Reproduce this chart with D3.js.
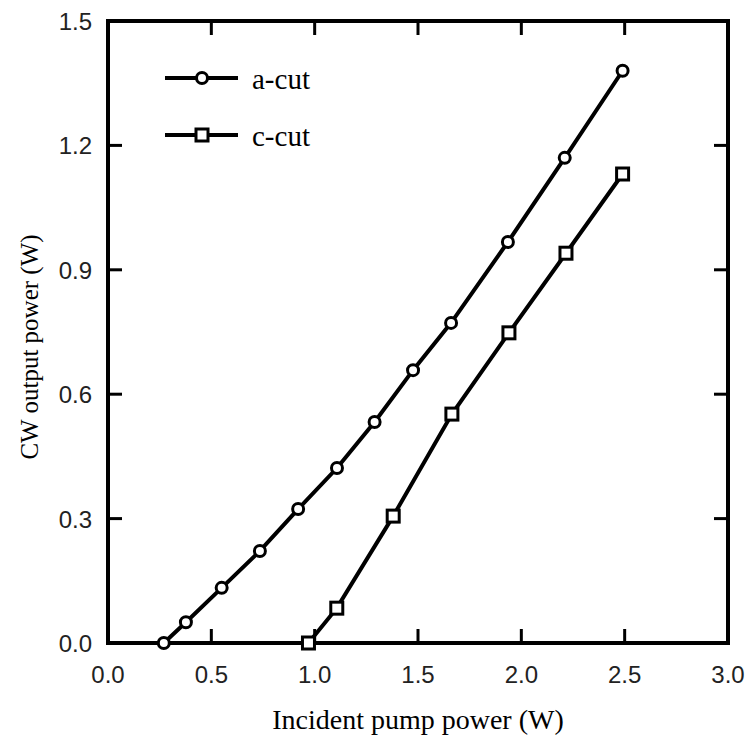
<!DOCTYPE html>
<html><head><meta charset="utf-8">
<script src="https://cdn.jsdelivr.net/npm/d3@7"></script>
<style>body{margin:0;background:#fff}</style>
</head><body>
<svg id="c" width="749" height="738"></svg>
<script>
const aCutX = [0.27, 0.377, 0.55, 0.735, 0.92, 1.108, 1.29, 1.476, 1.66, 1.935, 2.21, 2.49];
const aCutY = [0.0, 0.05, 0.133, 0.222, 0.323, 0.422, 0.533, 0.658, 0.772, 0.967, 1.17, 1.38];
const cCutX = [0.97, 1.107, 1.38, 1.664, 1.94, 2.216, 2.49];
const cCutY = [0.0, 0.084, 0.306, 0.552, 0.748, 0.94, 1.131];
const xTicks = [0.0, 0.5, 1.0, 1.5, 2.0, 2.5, 3.0];
const yTicks = [0.0, 0.3, 0.6, 0.9, 1.2, 1.5];
const seriesNames = ["a-cut", "c-cut"];

const svg = d3.select("#c");
const L = 108, R = 728, T = 21, B = 643;
const x = d3.scaleLinear().domain([0, 3]).range([L, R]);
const y = d3.scaleLinear().domain([0, 1.5]).range([B, T]);
const sans = "Liberation Sans, Arial, sans-serif";
const serif = "Liberation Serif, Times New Roman, serif";

// ticks (inside)
const tl = 14;
const g = svg.append("g").attr("stroke", "#000").attr("stroke-width", 3);
xTicks.slice(1, -1).forEach(v => {
  g.append("line").attr("x1", x(v)).attr("x2", x(v)).attr("y1", B).attr("y2", B - tl);
  g.append("line").attr("x1", x(v)).attr("x2", x(v)).attr("y1", T).attr("y2", T + tl);
});
yTicks.slice(1, -1).forEach(v => {
  g.append("line").attr("y1", y(v)).attr("y2", y(v)).attr("x1", L).attr("x2", L + tl);
  g.append("line").attr("y1", y(v)).attr("y2", y(v)).attr("x1", R).attr("x2", R - tl);
});
svg.append("rect").attr("x", L).attr("y", T).attr("width", R - L).attr("height", B - T)
  .attr("fill", "none").attr("stroke", "#000").attr("stroke-width", 4);

// tick labels
svg.append("g").selectAll("text").data(xTicks).join("text")
  .attr("x", d => x(d)).attr("y", 683).attr("text-anchor", "middle")
  .attr("font-family", sans).attr("font-size", 24).attr("fill", "#222")
  .text(d => d.toFixed(1));
svg.append("g").selectAll("text").data(yTicks).join("text")
  .attr("x", 92).attr("y", d => y(d) + 9).attr("text-anchor", "end")
  .attr("font-family", sans).attr("font-size", 24).attr("fill", "#222")
  .text(d => d.toFixed(1));

// axis titles
svg.append("text").attr("x", 418).attr("y", 729).attr("text-anchor", "middle")
  .attr("font-family", serif).attr("font-size", 28).text("Incident pump power (W)");
svg.append("text").attr("transform", "translate(38,347) rotate(-90)").attr("text-anchor", "middle")
  .attr("font-family", serif).attr("font-size", 25).text("CW output power (W)");

const line = d3.line().x(d => x(d[0])).y(d => y(d[1]));
const aData = aCutX.map((v, i) => [v, aCutY[i]]);
const cData = cCutX.map((v, i) => [v, cCutY[i]]);

function drawSeries(data, shape) {
  svg.append("path").datum(data).attr("d", line).attr("fill", "none")
    .attr("stroke", "#000").attr("stroke-width", 4);
  const mg = svg.append("g");
  if (shape === "circle") {
    mg.selectAll("circle").data(data).join("circle")
      .attr("cx", d => x(d[0])).attr("cy", d => y(d[1])).attr("r", 5.5)
      .attr("fill", "#fff").attr("stroke", "#000").attr("stroke-width", 3);
  } else {
    mg.selectAll("rect").data(data).join("rect")
      .attr("x", d => x(d[0]) - 6).attr("y", d => y(d[1]) - 6).attr("width", 12).attr("height", 12)
      .attr("fill", "#fff").attr("stroke", "#000").attr("stroke-width", 3);
  }
}
drawSeries(aData, "circle");
drawSeries(cData, "square");

// legend
const legY = [78, 135];
seriesNames.forEach((name, i) => {
  svg.append("line").attr("x1", 165).attr("x2", 238).attr("y1", legY[i]).attr("y2", legY[i])
    .attr("stroke", "#000").attr("stroke-width", 4);
  if (i === 0) {
    svg.append("circle").attr("cx", 202).attr("cy", legY[i]).attr("r", 5.5)
      .attr("fill", "#fff").attr("stroke", "#000").attr("stroke-width", 3);
  } else {
    svg.append("rect").attr("x", 196).attr("y", legY[i] - 6).attr("width", 12).attr("height", 12)
      .attr("fill", "#fff").attr("stroke", "#000").attr("stroke-width", 3);
  }
  svg.append("text").attr("x", 252).attr("y", legY[i] + 11).attr("font-family", serif)
    .attr("font-size", 29).text(name);
});
</script>
</body></html>
